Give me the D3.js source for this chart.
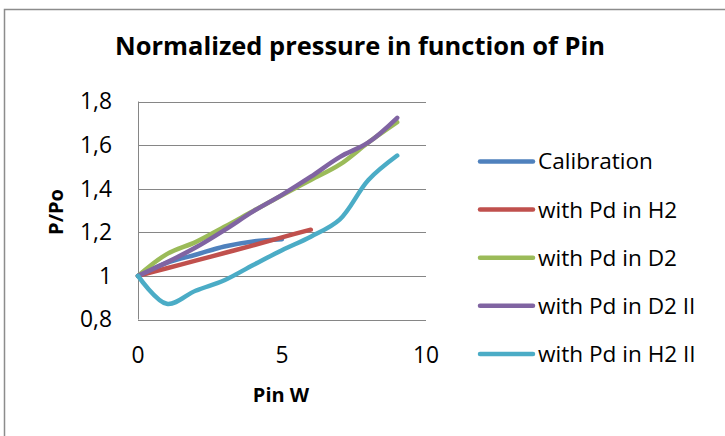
<!DOCTYPE html>
<html><head><meta charset="utf-8">
<script src="https://cdn.jsdelivr.net/npm/d3@7"></script>
<style>body{margin:0;background:#fff;}svg{display:block;font-family:"Open Sans","Noto Sans",sans-serif;}</style>
</head><body><svg id="c" width="725" height="436"></svg>
<script>
const xValues = [0,1,2,3,4,5,6,7,8,9];
const calibration = [1,1.06,1.097,1.135,1.158,1.168];
const pdH2 = [1,1.035,1.07,1.105,1.14,1.177,1.212];
const pdD2 = [1,1.10,1.155,1.225,1.298,1.37,1.44,1.51,1.612,1.705];
const pdD2II = [1,1.062,1.13,1.21,1.296,1.372,1.455,1.545,1.612,1.725];
const pdH2II = [1,0.872,0.932,0.98,1.05,1.118,1.18,1.258,1.44,1.552];
const seriesNames = ["Calibration","with Pd in H2","with Pd in D2","with Pd in D2 II","with Pd in H2 II"];
const seriesColors = ["#4F81BD","#C0504D","#9BBB59","#8064A2","#4BACC6"];
const yTicks = [0.8,1,1.2,1.4,1.6,1.8];
const xTicks = [0,5,10];

const series = [calibration,pdH2,pdD2,pdD2II,pdH2II].map((v,i)=>({name:seriesNames[i],color:seriesColors[i],pts:v.map((y,j)=>[xValues[j],y])}));

const svg = d3.select("#c");
function fitSize(txt, target, weight){
  const t = svg.append("text").attr("font-size",100).attr("font-weight",weight||"normal").text(txt);
  const w = t.node().getComputedTextLength(); t.remove();
  return 100*target/w;
}
const titleSize = Math.min(26, fitSize("Normalized pressure in function of Pin",490,"bold"));
const tickSize = Math.min(24, fitSize("1,8",32));
const legendSize = Math.min(24, fitSize("Calibration",115));
const axisTitleSize = Math.min(20, fitSize("Pin W",63,"bold"));

svg.append("path").attr("d","M4.5,436 L4.5,9.5 L725,9.5").attr("fill","none").attr("stroke","#8c8c8c").attr("stroke-width",1.5);

const x = d3.scaleLinear().domain([0,10]).range([138,426]);
const y = d3.scaleLinear().domain([0.8,1.8]).range([319.5,101.5]);

svg.append("g").selectAll("line").data(yTicks).join("line")
  .attr("x1",x(0)).attr("x2",x(10)).attr("y1",d=>Math.round(y(d))+0.5).attr("y2",d=>Math.round(y(d))+0.5)
  .attr("stroke","#868686").attr("stroke-width",1);
svg.append("line").attr("x1",x(0)+0.5).attr("x2",x(0)+0.5).attr("y1",y(1.8)).attr("y2",y(0.8)).attr("stroke","#868686");

const fmt = d=>String(+d.toFixed(1)).replace(".",",");
svg.append("g").selectAll("text").data(yTicks).join("text")
  .attr("x",112).attr("y",d=>y(d)).attr("dy","0.35em").attr("text-anchor","end")
  .attr("font-size",tickSize).attr("fill","#000").text(fmt);
svg.append("g").selectAll("text").data(xTicks).join("text")
  .attr("x",d=>x(d)).attr("y",355).attr("dy","0.35em").attr("text-anchor","middle")
  .attr("font-size",tickSize).attr("fill","#000").text(d=>d);

const line = d3.line().x(d=>x(d[0])).y(d=>y(d[1])).curve(d3.curveCatmullRom.alpha(0.5));
svg.append("g").selectAll("path").data(series).join("path")
  .attr("d",d=>line(d.pts)).attr("fill","none").attr("stroke",d=>d.color)
  .attr("stroke-width",4.5).attr("stroke-linecap","round").attr("stroke-linejoin","round");

svg.append("text").attr("x",360).attr("y",46).attr("dy","0.35em").attr("text-anchor","middle")
  .attr("font-size",titleSize).attr("font-weight","bold").text("Normalized pressure in function of Pin");
svg.append("text").attr("x",281).attr("y",395).attr("dy","0.35em").attr("text-anchor","middle")
  .attr("font-size",axisTitleSize).attr("font-weight","bold").text("Pin W");
svg.append("text").attr("transform","translate(56,212) rotate(-90)").attr("dy","0.35em").attr("text-anchor","middle")
  .attr("font-size",axisTitleSize).attr("font-weight","bold").text("P/Po");

const lg = svg.append("g").selectAll("g").data(series).join("g")
  .attr("transform",(d,i)=>`translate(0,${161.5+i*48.1})`);
lg.append("line").attr("x1",480).attr("x2",533).attr("stroke",d=>d.color).attr("stroke-width",4.5).attr("stroke-linecap","round");
lg.append("text").attr("x",538).attr("dy","0.35em").attr("font-size",legendSize).text(d=>d.name);
</script></body></html>
